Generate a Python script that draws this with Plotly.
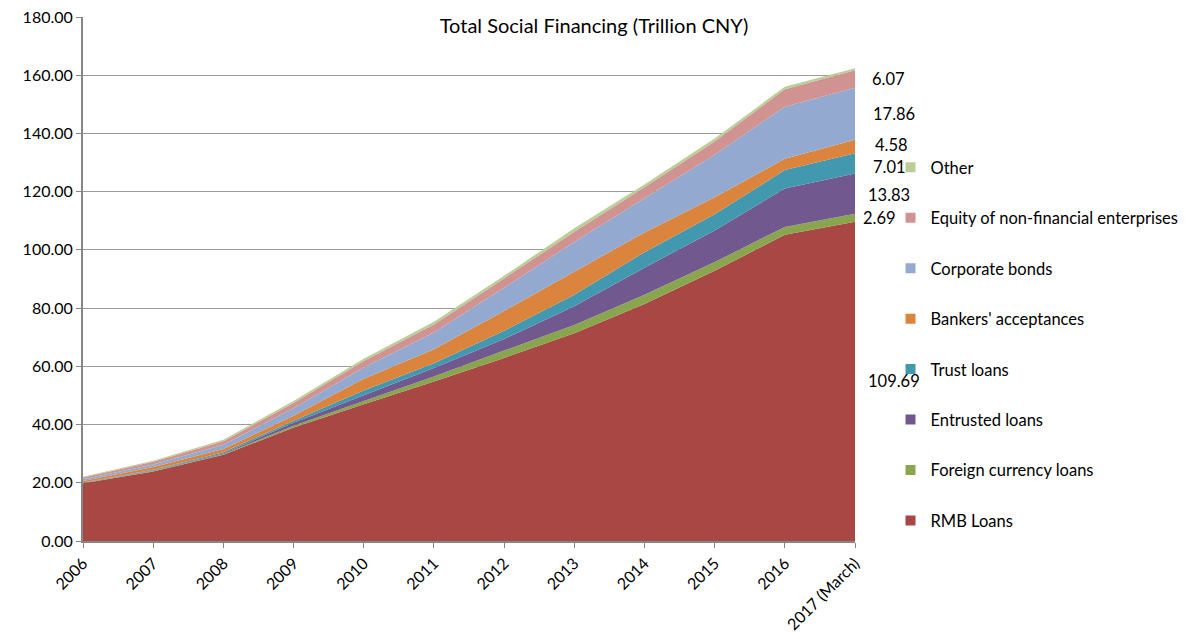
import plotly.graph_objects as go

# Stock of total social financing by component, trillion CNY
years = ["2006", "2007", "2008", "2009", "2010", "2011", "2012",
         "2013", "2014", "2015", "2016", "2017 (March)"]

rmb_loans      = [19.8, 23.9, 29.6, 39.0, 47.0, 54.8, 62.9, 71.4, 81.4, 92.8, 105.2, 109.69]
fx_loans       = [0.1, 0.2, 0.2, 0.6, 1.1, 1.7, 2.5, 2.8, 3.2, 3.0, 2.7, 2.69]
entrusted      = [0.1, 0.2, 0.3, 1.0, 2.0, 2.9, 4.0, 6.4, 9.3, 10.9, 13.2, 13.83]
trust_loans    = [0.1, 0.2, 0.4, 0.7, 1.6, 1.7, 2.8, 4.0, 5.3, 5.5, 6.3, 7.01]
bankers_accept = [0.5, 0.9, 1.1, 1.7, 4.0, 4.8, 6.8, 7.8, 6.8, 5.9, 3.9, 4.58]
corp_bonds     = [0.6, 0.9, 1.5, 2.6, 3.9, 5.7, 8.0, 10.3, 11.7, 14.6, 17.9, 17.86]
equity         = [0.6, 0.9, 1.2, 1.8, 2.2, 2.8, 3.2, 3.5, 3.8, 4.5, 6.0, 6.07]
other          = [0.3, 0.4, 0.5, 0.7, 0.8, 0.9, 0.9, 1.2, 1.0, 1.1, 0.8, 0.70]

series_names = ["RMB Loans", "Foreign currency loans", "Entrusted loans", "Trust loans",
                "Bankers' acceptances", "Corporate bonds",
                "Equity of non-financial enterprises", "Other"]
series_values = [rmb_loans, fx_loans, entrusted, trust_loans,
                 bankers_accept, corp_bonds, equity, other]
labelled = [True, True, True, True, True, True, True, False]

colors = ["#A94745", "#89A54E", "#71588F", "#4198AF",
          "#DB843D", "#93A9CF", "#D19392", "#B9CD96"]

# nudges (px) of each end-of-series value label
label_dx = [11, 6, 11, 16, 18, 16, 15, 0]
label_dy = [0, 0, -1, -4, 2, 0, 0, 0]

FONT = "Lato"
fig = go.Figure()

x_idx = list(range(len(years)))

for name, vals, col in zip(series_names, series_values, colors):
    fig.add_trace(go.Scatter(
        x=x_idx, y=vals, name=name, stackgroup="one",
        mode="lines", line=dict(width=0, color=col),
        fillcolor=col, showlegend=False, hoverinfo="x+y+name",
    ))

# legend entries drawn as small squares, top of the stack listed first
for i in reversed(range(len(series_names))):
    fig.add_trace(go.Scatter(
        x=[None], y=[None], name=series_names[i], mode="markers",
        marker=dict(symbol="square", size=10, color=colors[i]),
        legendgroup=f"g{i}", showlegend=True,
    ))

# value labels at the middle of each band at the last point
last = len(years) - 1
base = 0.0
for vals, show, dx, dy in zip(series_values, labelled, label_dx, label_dy):
    v = vals[last]
    if show:
        fig.add_annotation(
            x=last, y=base + v / 2, xref="x", yref="y",
            text=f"{v:.2f}", showarrow=False, xanchor="left",
            xshift=dx, yshift=dy,
            font=dict(family=FONT, size=16.5, color="#000000"),
        )
    base += v

fig.update_layout(
    width=1188, height=639,
    margin=dict(l=83, r=333, t=17, b=98, autoexpand=False),
    paper_bgcolor="white", plot_bgcolor="white",
    font=dict(family=FONT, size=16, color="#000000"),
    title=dict(text="Total Social Financing (Trillion CNY)",
               x=0.5, xref="container", y=1 - 26 / 639, yref="container",
               xanchor="center", yanchor="middle",
               font=dict(family=FONT, size=20, color="#000000")),
    showlegend=True,
    legend=dict(x=1.046, xanchor="left", y=0.746, yanchor="top",
                traceorder="grouped", tracegroupgap=26,
                font=dict(family=FONT, size=16.5, color="#000000"),
                bgcolor="rgba(0,0,0,0)", itemwidth=30),
)

fig.update_xaxes(
    range=[0, last], tickmode="array", tickvals=x_idx, ticktext=years,
    tickangle=-45, showgrid=False, zeroline=False, automargin=False,
    showline=True, linecolor="#868686", linewidth=1.5,
    ticks="outside", ticklen=5, tickcolor="#868686",
    tickfont=dict(family=FONT, size=16, color="#000000"),
)
fig.update_yaxes(
    range=[0, 180], dtick=20, tickformat=".2f", automargin=False,
    showgrid=True, gridcolor="#9a9a9a", gridwidth=1, zeroline=False,
    showline=True, linecolor="#868686", linewidth=2,
    ticks="outside", ticklen=5, tickcolor="#868686",
    tickfont=dict(family=FONT, size=16, color="#000000"),
)

fig.write_html("out.html")
